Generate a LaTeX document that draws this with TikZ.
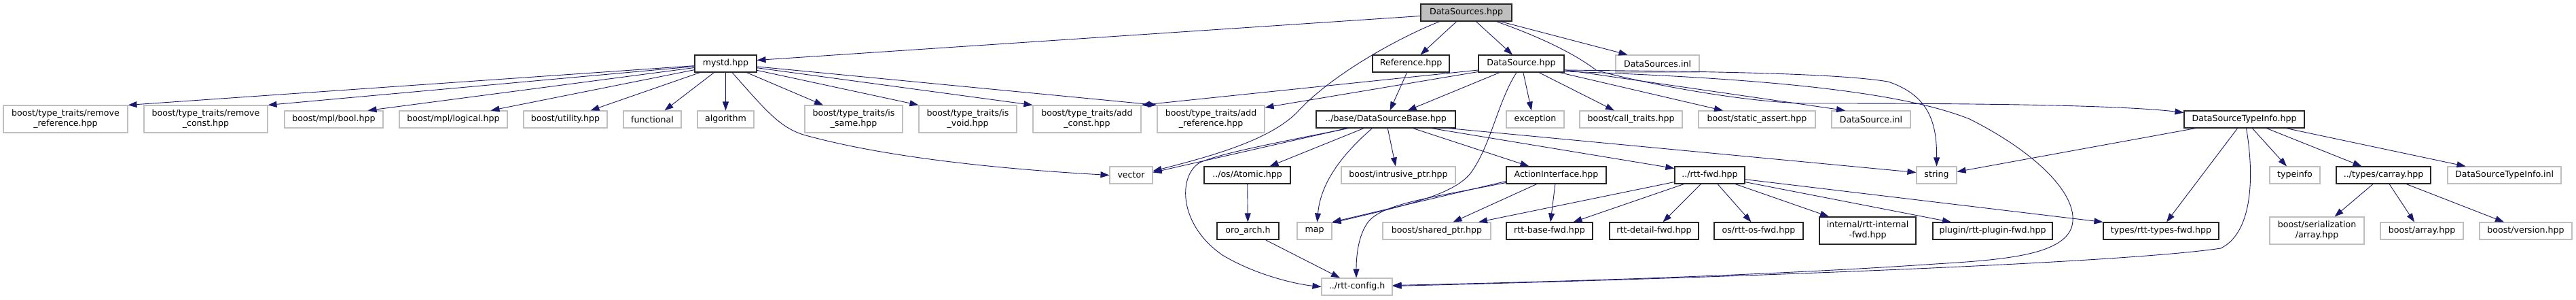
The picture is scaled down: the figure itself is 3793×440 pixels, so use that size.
\documentclass[tikz,border=0pt]{standalone}
\usepackage{fontspec}
\setmainfont{DejaVu Sans}
\usetikzlibrary{arrows.meta}
\definecolor{edgec}{HTML}{191970}
\definecolor{gborder}{HTML}{BFBFBF}
\definecolor{topfill}{HTML}{BFBFBF}
\begin{document}
\begin{tikzpicture}[x=1pt,y=-1pt,
  nd/.style={draw=black!85, line width=1.1pt, fill=white, minimum height=25pt, inner sep=0pt,
    font=\fontsize{12.6}{15}\selectfont, align=center},
  nd2/.style={nd, minimum height=40pt},
  gn/.style={nd, draw=gborder},
  gn2/.style={gn, minimum height=40pt},
  e/.style={draw=edgec, line width=0.9pt, -{Triangle[length=13pt,width=9pt]}}]
\useasboundingbox (0,0) rectangle (3793,440);
% row 0
\node[nd, fill=topfill, minimum width=134pt] (ds) at (2159,18.5) {DataSources.hpp};
% row 1
\node[nd, minimum width=91pt] (mystd) at (1068.5,93.5) {mystd.hpp};
\node[nd, minimum width=113pt] (ref) at (2077.5,93.5) {Reference.hpp};
\node[nd, minimum width=126pt] (dsrc) at (2240,93.5) {DataSource.hpp};
\node[gn, minimum width=123pt] (dsinl) at (2440.5,93.5) {DataSources.inl};
% row 2
\node[gn2, minimum width=183pt] (rr) at (96.5,175) {boost/type\_traits/remove\\\_reference.hpp};
\node[gn2, minimum width=182pt] (rc) at (303,175) {boost/type\_traits/remove\\\_const.hpp};
\node[gn, minimum width=145pt] (bool) at (491.5,175.5) {boost/mpl/bool.hpp};
\node[gn, minimum width=159pt] (logical) at (667.5,175.5) {boost/mpl/logical.hpp};
\node[gn, minimum width=123pt] (utility) at (832.5,175.5) {boost/utility.hpp};
\node[gn, minimum width=85pt] (functional) at (960.5,175.5) {functional};
\node[gn, minimum width=83pt] (algorithm) at (1068.5,175.5) {algorithm};
\node[gn2, minimum width=144pt] (issame) at (1257,175) {boost/type\_traits/is\\\_same.hpp};
\node[gn2, minimum width=144pt] (isvoid) at (1425,175) {boost/type\_traits/is\\\_void.hpp};
\node[gn2, minimum width=159pt] (addc) at (1600.5,175) {boost/type\_traits/add\\\_const.hpp};
\node[gn2, minimum width=158pt] (addr) at (1783,175) {boost/type\_traits/add\\\_reference.hpp};
\node[nd, minimum width=205pt] (dsb) at (2040.5,175.5) {../base/DataSourceBase.hpp};
\node[gn, minimum width=85pt] (exc) at (2260.5,175.5) {exception};
\node[gn, minimum width=151pt] (calltr) at (2401.5,175.5) {boost/call\_traits.hpp};
\node[gn, minimum width=172pt] (sassert) at (2587,175.5) {boost/static\_assert.hpp};
\node[gn, minimum width=116pt] (dsrcinl) at (2755,175.5) {DataSource.inl};
\node[nd, minimum width=177pt] (dsti) at (3304.5,175.5) {DataSourceTypeInfo.hpp};
% row 3
\node[gn, minimum width=63pt] (vector) at (1665.5,257.5) {vector};
\node[nd, minimum width=127pt] (atomic) at (1836.5,257.5) {../os/Atomic.hpp};
\node[gn, minimum width=168pt] (intr) at (2059,257.5) {boost/intrusive\_ptr.hpp};
\node[nd, minimum width=147pt] (action) at (2291.5,257.5) {ActionInterface.hpp};
\node[nd, minimum width=103pt] (rttfwd) at (2517.5,257.5) {../rtt-fwd.hpp};
\node[gn, minimum width=59pt] (string) at (2851.5,257.5) {string};
\node[gn, minimum width=74pt] (typeinfo) at (3379,257.5) {typeinfo};
\node[nd, minimum width=139pt] (carray) at (3509.5,257.5) {../types/carray.hpp};
\node[gn, minimum width=167pt] (dstiinl) at (3687.5,257.5) {DataSourceTypeInfo.inl};
% row 4
\node[nd, minimum width=91pt] (oroarch) at (1837.5,339.5) {oro\_arch.h};
\node[gn, minimum width=51pt] (map) at (1935.5,339.5) {map};
\node[gn, minimum width=159pt] (shptr) at (2115.5,339.5) {boost/shared\_ptr.hpp};
\node[nd, minimum width=127pt] (basefwd) at (2281.5,339.5) {rtt-base-fwd.hpp};
\node[nd, minimum width=131pt] (detailfwd) at (2435.5,339.5) {rtt-detail-fwd.hpp};
\node[nd, minimum width=131pt] (osfwd) at (2589.5,339.5) {os/rtt-os-fwd.hpp};
\node[nd2, minimum width=142pt] (internalfwd) at (2750,339) {internal/rtt-internal\\-fwd.hpp};
\node[nd, minimum width=176pt] (pluginfwd) at (2934,339.5) {plugin/rtt-plugin-fwd.hpp};
\node[nd, minimum width=170pt] (typesfwd) at (3182,339.5) {types/rtt-types-fwd.hpp};
\node[gn2, minimum width=139pt] (serarr) at (3411.5,339) {boost/serialization\\/array.hpp};
\node[gn, minimum width=122pt] (barray) at (3566,339.5) {boost/array.hpp};
\node[gn, minimum width=136pt] (bversion) at (3719,339.5) {boost/version.hpp};
% row 5
\node[gn, minimum width=104pt] (config) at (1998,421.5) {../rtt-config.h};

% edges from mystd
\draw[e] (mystd) -- (rr.north east);
\draw[e] (mystd) -- (rc.north east);
\draw[e] (mystd) -- ([xshift=50pt]bool.north);
\draw[e] (mystd) -- ([xshift=55pt]logical.north);
\draw[e] (mystd) -- ([xshift=37pt]utility.north);
\draw[e] (mystd) -- ([xshift=18pt]functional.north);
\draw[e] (mystd) -- (algorithm);
\draw[e] (mystd) -- ([xshift=-45pt]issame.north);
\draw[e] (mystd) -- (isvoid.north west);
\draw[e] (mystd) -- (addc.north west);
\draw[e] (mystd) -- (addr.north west);
\draw[e] ([xshift=9.5pt]mystd.south) .. controls (1130,165) and (1150,190) .. (1190,200)
   .. controls (1320,235) and (1500,250) .. (vector.west);
% edges from DataSources.hpp
\draw[e] ([yshift=-5pt]ds.west) -- ([yshift=5pt]mystd.east);
\draw[e] (ds) -- ([xshift=14pt]ref.north);
\draw[e] (ds) -- ([xshift=-13pt]dsrc.north);
\draw[e] (ds) -- ([xshift=-44pt]dsinl.north);
\draw[e] ([xshift=-39pt]ds.south) .. controls (2060,55) and (1960,110) .. (1910,165)
   .. controls (1870,205) and (1790,228) .. ([yshift=6pt]vector.east);
\draw[e] ([xshift=44pt]ds.south) .. controls (2270,55) and (2320,80) .. (2350,103)
   .. controls (2380,113) and (2550,150) .. (2660,152)
   .. controls (2800,152) and (3100,152) .. ([yshift=10pt]dsti.west);
% edges from DataSource.hpp
\draw[e] (dsrc) -- ([xshift=32pt]dsb.north);
\draw[e] (dsrc) -- ([xshift=-5.5pt]exc.north);
\draw[e] (dsrc) -- ([xshift=-24.5pt]calltr.north);
\draw[e] (dsrc) -- ([xshift=-50pt]sassert.north);
\draw[e] (dsrc) -- ([xshift=-38pt]dsrcinl.north);
\draw[e] ([yshift=-9.5pt]dsrc.west) -- (addc.north east);
\draw[e] ([yshift=-12pt]dsrc.west) -- ([yshift=17pt]addr.east);
\draw[e] ([yshift=-9.5pt]dsrc.east) .. controls (2500,105) and (2700,107) .. (2780,120)
   .. controls (2840,140) and (2852,180) .. (string.north);
\draw[e] ([yshift=-11.5pt]dsrc.east) .. controls (2600,115) and (2800,135) .. (2900,175)
   .. controls (3000,225) and (3065,290) .. (3050,335)
   .. controls (3035,375) and (2950,382) .. (2850,388)
   .. controls (2600,405) and (2300,414) .. ([yshift=2pt]config.east);
\draw[e] ([xshift=-7pt]dsrc.south) .. controls (2205,150) and (2195,215) .. (2165,255)
   .. controls (2140,285) and (2080,300) .. ([yshift=12pt]map.east);
% Reference
\draw[e] (ref) -- ([xshift=6pt]dsb.north);
% DataSourceBase
\draw[e] ([xshift=-57pt]dsb.south) -- ([yshift=4pt]vector.east);
\draw[e] ([xshift=-55pt]dsb.south) .. controls (1900,206) and (1790,226) .. (1765,240)
   .. controls (1735,260) and (1735,330) .. (1800,375)
   .. controls (1850,405) and (1910,418) .. (config.west);
\draw[e] (dsb) -- ([xshift=33pt]atomic.north);
\draw[e] ([xshift=-20pt]dsb.south) .. controls (1990,215) and (1945,260) .. ([xshift=4pt]map.north);
\draw[e] (dsb) -- ([xshift=-4pt]intr.north);
\draw[e] (dsb) -- ([xshift=-40pt]action.north);
\draw[e] ([xshift=67pt]dsb.south) -- ([yshift=10pt]rttfwd.west);
\draw[e] ([xshift=92pt]dsb.south) -- ([yshift=4pt]string.west);
% ActionInterface
\draw[e] ([yshift=-9pt]action.west) -- (map.north east);
\draw[e] ([yshift=-11pt]action.west) .. controls (2100,292) and (2030,300) .. (2012,330)
   .. controls (1999,350) and (1997,380) .. ([xshift=-1pt]config.north);
\draw[e] (action) -- ([xshift=24pt]shptr.north);
\draw[e] (action) -- ([xshift=1.5pt]basefwd.north);
% rtt-fwd
\draw[e] ([yshift=-10pt]rttfwd.west) -- ([xshift=61.5pt]shptr.north);
\draw[e] (rttfwd) -- ([xshift=35pt]basefwd.north);
\draw[e] (rttfwd) -- ([xshift=13pt]detailfwd.north);
\draw[e] (rttfwd) -- ([xshift=-11pt]osfwd.north);
\draw[e] (rttfwd) -- ([xshift=-57pt]internalfwd.north);
\draw[e] (rttfwd) -- ([xshift=-61pt]pluginfwd.north);
\draw[e] (rttfwd) -- (typesfwd.north west);
% DataSourceTypeInfo
\draw[e] (dsti) -- ([yshift=5pt]string.east);
\draw[e] (dsti) -- ([xshift=8pt]typesfwd.north);
\draw[e] ([xshift=3pt]dsti.south) .. controls (3318,250) and (3320,340) .. (3270,365)
   .. controls (3100,390) and (2400,412) .. ([yshift=1pt]config.east);
\draw[e] (dsti) -- ([xshift=-12pt]typeinfo.north);
\draw[e] (dsti) -- ([xshift=-32pt]carray.north);
\draw[e] (dsti) -- ([xshift=-57pt]dstiinl.north);
% carray
\draw[e] (carray) -- ([xshift=26pt]serarr.north);
\draw[e] (carray) -- ([xshift=-11pt]barray.north);
\draw[e] (carray) -- ([xshift=-32pt]bversion.north);
% atomic, oro_arch
\draw[e] (atomic) -- (oroarch);
\draw[e] (oroarch) -- ([xshift=-25pt]config.north);
\end{tikzpicture}
\end{document}
